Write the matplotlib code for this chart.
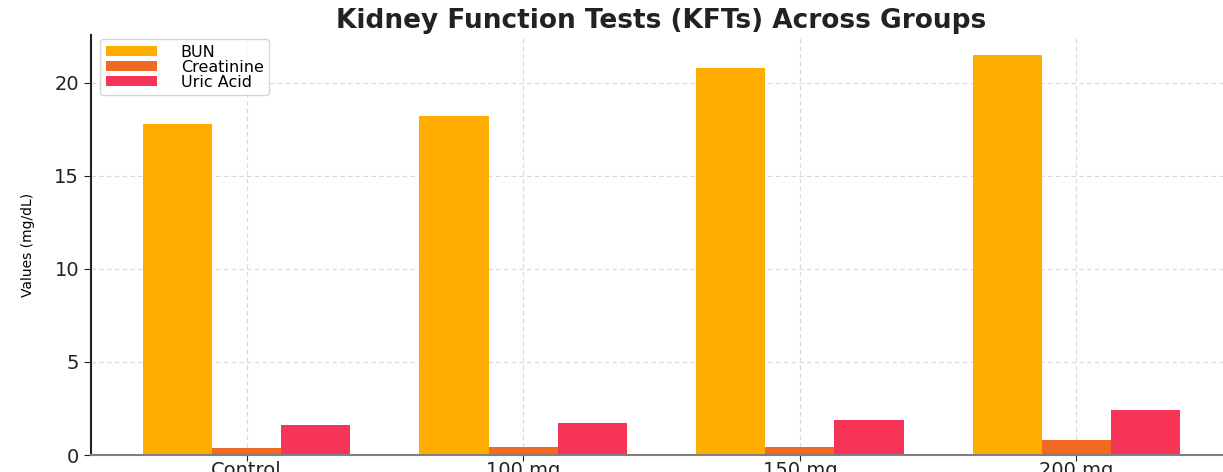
import numpy as np
from matplotlib import pyplot as plt

groups = ['Control', '100 mg', '150 mg', '200 mg']
bun = [17.8, 18.2, 20.8, 21.5]
creatinine = [0.4, 0.42, 0.45, 0.8]
uric_acid = [1.6, 1.7, 1.9, 2.4]

colors = {'BUN': '#FFAE00', 'Creatinine': '#F26A21', 'Uric Acid': '#F73358'}

fig = plt.figure(figsize=(12.23, 4.72), dpi=100)
ax = fig.add_axes([0.0744, 0.036, 0.933, 0.89])

x = np.arange(len(groups))
w = 0.25
ax.bar(x - w, bun, w, color=colors['BUN'], label='BUN')
ax.bar(x, creatinine, w, color=colors['Creatinine'], label='Creatinine')
ax.bar(x + w, uric_acid, w, color=colors['Uric Acid'], label='Uric Acid')

ax.set_xticks(x)
ax.set_xticklabels(groups, fontsize=14, color='#222222')
ax.set_yticks([0, 5, 10, 15, 20])
ax.tick_params(axis='y', labelsize=14, length=5, color='#222222', labelcolor='#222222')
ax.tick_params(axis='x', length=4, color='#222222', pad=0)
ax.set_ylabel('Values (mg/dL)', fontsize=10, labelpad=14)
ax.set_title('Kidney Function Tests (KFTs) Across Groups', fontsize=19,
             fontweight='bold', color='#222222', pad=5)

ax.grid(True, linestyle=(0, (4, 3)), color='#d9d9d9', linewidth=0.8)
ax.set_axisbelow(True)
ax.spines['top'].set_visible(False)
ax.spines['right'].set_visible(False)
ax.spines['left'].set_color('#222222')
ax.spines['left'].set_linewidth(1.5)
ax.spines['bottom'].set_color('#808080')
ax.spines['bottom'].set_linewidth(1.5)

ax.legend(loc='upper left', bbox_to_anchor=(0.008, 0.99), fontsize=11.5,
          handlelength=3.2, handleheight=0.5, handletextpad=1.5,
          borderaxespad=0.0, labelspacing=0.0, borderpad=0.35)

fig.savefig('out.png', dpi=100)
